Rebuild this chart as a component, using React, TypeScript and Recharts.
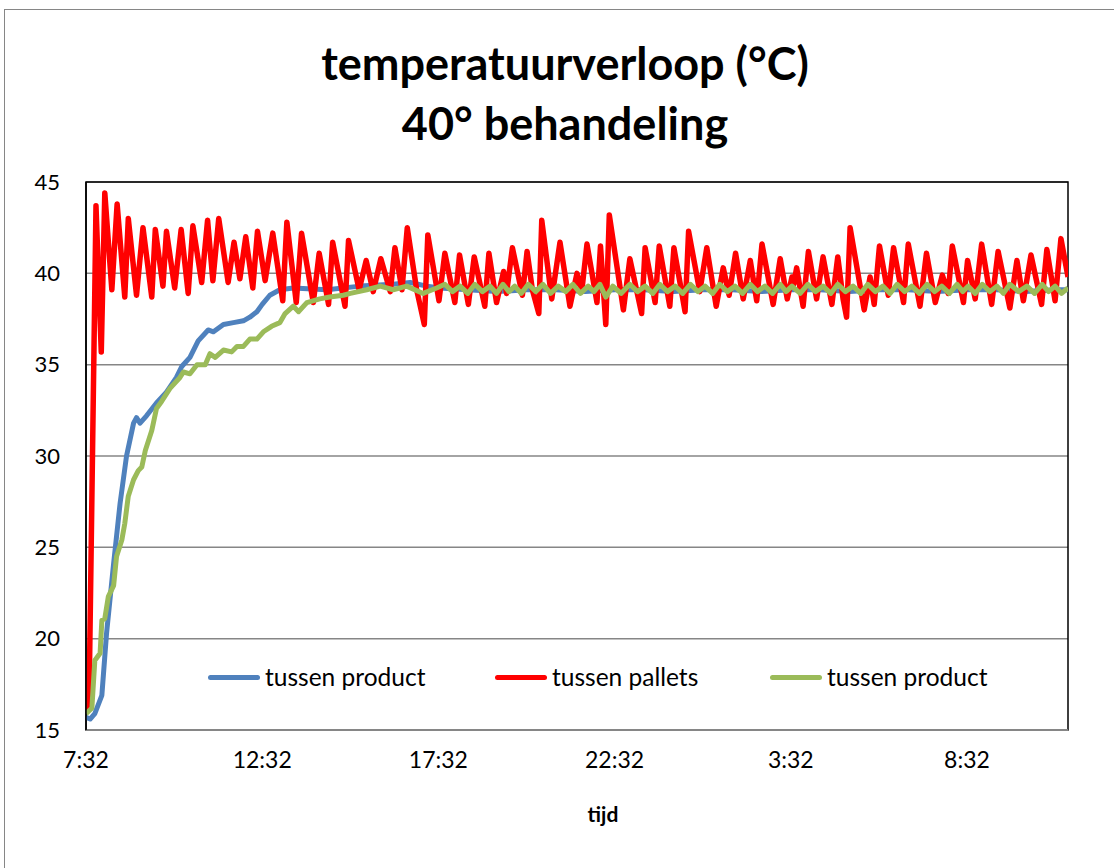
import { LineChart, Line, XAxis, YAxis, CartesianGrid, ReferenceArea, Legend } from 'recharts'

// time in minutes after 7:32, temperature in °C
const tijdTicks = [0, 300, 600, 900, 1200, 1500]
const tijdLabels = ['7:32', '12:32', '17:32', '22:32', '3:32', '8:32']
const tempTicks = [15, 20, 25, 30, 35, 40, 45]
const seriesNames = ['tussen product', 'tussen pallets', 'tussen product']

const productBlauw: [number, number][] = [
  [0, 15.7], [7, 15.6], [15, 15.9], [27, 16.9], [35, 20.3], [47, 24.1], [58, 27.4], [69, 30.0],
  [81, 31.8], [86, 32.1], [92, 31.8], [103, 32.2], [120, 32.9], [137, 33.5], [154, 34.3], [163, 34.9],
  [177, 35.4], [191, 36.3], [208, 36.9], [217, 36.8], [234, 37.2], [251, 37.3], [268, 37.4], [279, 37.6],
  [291, 37.9], [300, 38.3], [313, 38.8], [330, 39.1], [353, 39.2], [410, 39.1], [467, 39.3], [523, 39.4],
  [552, 39.5], [580, 39.3], [603, 39.2], [650, 39.1], [700, 39.0], [750, 39.1], [800, 39.1], [850, 39.0],
  [900, 39.1], [950, 39.1], [1000, 39.0], [1050, 39.1], [1100, 39.1], [1150, 39.0], [1200, 39.1],
  [1250, 39.1], [1300, 39.0], [1350, 39.1], [1400, 39.1], [1450, 39.0], [1500, 39.1], [1550, 39.1],
  [1600, 39.0], [1650, 39.1], [1672, 39.1],
]

const palletsRood: [number, number][] = [
  [0, 16.0], [5, 16.2], [17, 43.7], [26, 35.7], [32, 44.4], [44, 39.1], [53, 43.8], [66, 38.7],
  [72, 43.0], [86, 38.8], [97, 42.5], [112, 38.7], [118, 42.4], [131, 39.3], [137, 42.3], [151, 39.2],
  [162, 42.4], [174, 38.9], [182, 42.6], [197, 39.5], [207, 42.9], [216, 39.6], [226, 43.0], [242, 39.5],
  [252, 41.7], [262, 39.7], [272, 42.0], [284, 39.2], [292, 42.3], [305, 39.6], [318, 42.2], [335, 38.5],
  [342, 42.8], [358, 38.4], [367, 42.2], [387, 38.4], [397, 41.1], [413, 38.3], [420, 41.7], [441, 38.2],
  [447, 41.8], [465, 39.1], [477, 40.7], [489, 39.0], [502, 40.8], [518, 39.0], [526, 41.4], [538, 39.1],
  [547, 42.5], [563, 39.1], [576, 37.2], [582, 42.1], [601, 38.5], [611, 41.1], [628, 38.4], [636, 41.0],
  [651, 38.3], [661, 40.9], [679, 38.2], [686, 41.1], [699, 38.4], [711, 40.1], [716, 38.9], [726, 41.4],
  [743, 38.8], [751, 41.2], [760, 39.1], [771, 37.8], [776, 42.9], [793, 38.6], [807, 41.7], [824, 38.2],
  [836, 40.0], [844, 39.0], [853, 41.6], [870, 38.4], [876, 41.5], [885, 37.2], [891, 43.2], [915, 38.0],
  [926, 40.8], [946, 37.8], [952, 41.4], [969, 38.4], [976, 41.5], [994, 38.2], [1001, 41.4], [1020, 37.9],
  [1026, 42.3], [1045, 39.0], [1057, 41.4], [1073, 38.2], [1085, 40.3], [1095, 38.8], [1106, 41.1],
  [1119, 38.6], [1131, 40.7], [1142, 38.5], [1151, 41.6], [1170, 38.3], [1182, 40.8], [1194, 38.6],
  [1202, 39.8], [1205, 39.4], [1210, 40.3], [1221, 38.2], [1230, 41.2], [1244, 38.6], [1255, 40.9],
  [1270, 38.3], [1280, 40.9], [1289, 38.6], [1295, 37.6], [1301, 42.5], [1325, 38.0], [1335, 39.8],
  [1342, 38.3], [1351, 41.5], [1366, 38.8], [1375, 41.4], [1392, 38.4], [1400, 41.6], [1420, 38.2],
  [1431, 41.1], [1446, 38.4], [1458, 39.9], [1468, 38.9], [1475, 41.5], [1494, 38.4], [1501, 40.7],
  [1514, 38.6], [1525, 41.6], [1542, 38.3], [1553, 41.2], [1573, 38.1], [1585, 40.7], [1596, 38.5],
  [1609, 41.0], [1627, 38.3], [1636, 41.3], [1650, 38.5], [1660, 41.9], [1672, 39.8],
]

const productGroen: [number, number][] = [
  [0, 15.9], [10, 16.2], [15, 18.8], [24, 19.2], [27, 21.0], [32, 21.1], [38, 22.3], [47, 22.9],
  [52, 24.5], [61, 25.4], [66, 26.3], [72, 27.8], [81, 28.7], [89, 29.2], [95, 29.4], [101, 30.3],
  [112, 31.4], [120, 32.6], [129, 33.0], [143, 33.7], [160, 34.3], [166, 34.6], [177, 34.5], [189, 35.0],
  [203, 35.0], [211, 35.6], [220, 35.4], [234, 35.8], [248, 35.7], [257, 36.0], [268, 36.0], [279, 36.4],
  [291, 36.4], [302, 36.8], [316, 37.1], [330, 37.3], [339, 37.8], [353, 38.2], [362, 37.9], [376, 38.4],
  [398, 38.6], [415, 38.7], [438, 38.8], [450, 38.9], [478, 39.1], [501, 39.3], [523, 39.1], [546, 39.3],
  [574, 38.9], [597, 39.2], [611, 39.4], [624, 39.0], [637, 39.3], [650, 38.9], [662, 39.4], [675, 39.0],
  [688, 39.3], [699, 38.9], [710, 39.4], [720, 39.0], [730, 39.3], [741, 38.9], [753, 39.4], [766, 39.0],
  [778, 39.4], [791, 38.9], [804, 39.3], [817, 39.0], [829, 39.4], [842, 38.9], [855, 39.3], [865, 39.0],
  [875, 39.4], [885, 38.7], [897, 39.3], [911, 38.9], [926, 39.4], [939, 39.0], [952, 39.3], [965, 38.9],
  [977, 39.4], [990, 39.0], [1003, 39.3], [1016, 38.9], [1029, 39.4], [1042, 39.0], [1054, 39.3],
  [1067, 38.9], [1079, 39.4], [1092, 39.0], [1105, 39.3], [1118, 38.9], [1131, 39.4], [1143, 39.0],
  [1156, 39.3], [1169, 38.9], [1182, 39.4], [1192, 39.0], [1202, 39.3], [1216, 38.9], [1229, 39.4],
  [1242, 39.0], [1255, 39.3], [1268, 38.9], [1280, 39.4], [1293, 39.0], [1306, 39.3], [1319, 38.9],
  [1331, 39.4], [1344, 39.0], [1357, 39.3], [1369, 38.9], [1381, 39.4], [1394, 39.0], [1406, 39.3],
  [1419, 38.9], [1432, 39.4], [1445, 39.0], [1457, 39.3], [1470, 38.9], [1483, 39.4], [1493, 39.0],
  [1502, 39.3], [1514, 38.9], [1526, 39.4], [1539, 39.0], [1551, 39.3], [1562, 38.9], [1573, 39.4],
  [1588, 39.0], [1602, 39.3], [1615, 38.9], [1628, 39.4], [1639, 39.0], [1650, 39.3], [1661, 38.9],
  [1672, 39.2],
]

const FONT = 'Lato, "Open Sans", sans-serif'
const colors = ['#4F81BD', '#FF0000', '#9BBB59']
const legendLeft = [208, 495, 770]

const rows = (pts: [number, number][]) => pts.map(([t, v]) => ({ t, v }))

function LegendItems() {
  return (
    <div style={{ position: 'relative', height: 30, fontFamily: FONT, fontSize: 24.5 }}>
      {seriesNames.map((name, i) => (
        <div key={i} style={{ position: 'absolute', left: legendLeft[i], top: 0, display: 'flex', alignItems: 'center', whiteSpace: 'nowrap', lineHeight: '30px' }}>
          <div style={{ width: 52, height: 5, borderRadius: 3, background: colors[i], marginRight: 5 }} />
          <span style={{ color: '#000' }}>{name}</span>
        </div>
      ))}
    </div>
  )
}

export default function App() {
  return (
    <div style={{ position: 'fixed', left: 0, top: 0, width: 1114, height: 868, overflow: 'hidden', background: '#fff' }}>
      <div style={{ position: 'absolute', left: 4, top: 9, width: 1130, height: 900, border: '1.5px solid #868686' }} />
      <div style={{ position: 'absolute', left: 0, top: 33, width: 1130, textAlign: 'center', fontFamily: FONT, fontWeight: 700, fontSize: 45, lineHeight: '60px', color: '#000' }}>
        <div>temperatuurverloop (°C)</div>
        <div>40° behandeling</div>
      </div>
      <div style={{ position: 'absolute', left: 0, top: 0 }}>
        <LineChart width={1114} height={868} margin={{ top: 182, right: 46, bottom: 8, left: 26 }}>
          <CartesianGrid vertical={false} stroke="#868686" strokeWidth={1.5} />
          <XAxis
            type="number"
            dataKey="t"
            domain={[0, 1672]}
            ticks={tijdTicks}
            tickFormatter={(v: number) => tijdLabels[tijdTicks.indexOf(v)] ?? ''}
            allowDataOverflow
            height={100}
            tickLine={false}
            tickMargin={16}
            axisLine={{ stroke: '#868686', strokeWidth: 2 }}
            tick={{ fill: '#000', fontSize: 23, fontFamily: FONT }}
            label={({ viewBox }: any) => (
              <text x={viewBox.x + viewBox.width / 2 + 26} y={viewBox.y + 92} textAnchor="middle" fontFamily={FONT} fontWeight={700} fontSize={21} fill="#000">tijd</text>
            )}
          />
          <YAxis
            type="number"
            domain={[15, 45]}
            ticks={tempTicks}
            allowDataOverflow
            width={60}
            tickLine={false}
            tickMargin={20}
            axisLine={{ stroke: '#000', strokeWidth: 1.5 }}
            tick={{ fill: '#000', fontSize: 22, fontFamily: FONT }}
          />
          <ReferenceArea x1={0} x2={1672} y1={15} y2={45} fill="none" stroke="#000" strokeWidth={1.5} />
          <Line data={rows(productBlauw)} dataKey="v" name={seriesNames[0]} type="linear" stroke={colors[0]} strokeWidth={5} dot={false} isAnimationActive={false} strokeLinejoin="round" />
          <Line data={rows(palletsRood)} dataKey="v" name={seriesNames[1]} type="linear" stroke={colors[1]} strokeWidth={5.5} dot={false} isAnimationActive={false} strokeLinejoin="round" />
          <Line data={rows(productGroen)} dataKey="v" name={seriesNames[2]} type="linear" stroke={colors[2]} strokeWidth={5} dot={false} isAnimationActive={false} strokeLinejoin="round" />
          <Legend content={() => <LegendItems />} wrapperStyle={{ position: 'absolute', left: 0, top: 662, width: 1114, height: 30 }} />
        </LineChart>
      </div>
    </div>
  )
}
